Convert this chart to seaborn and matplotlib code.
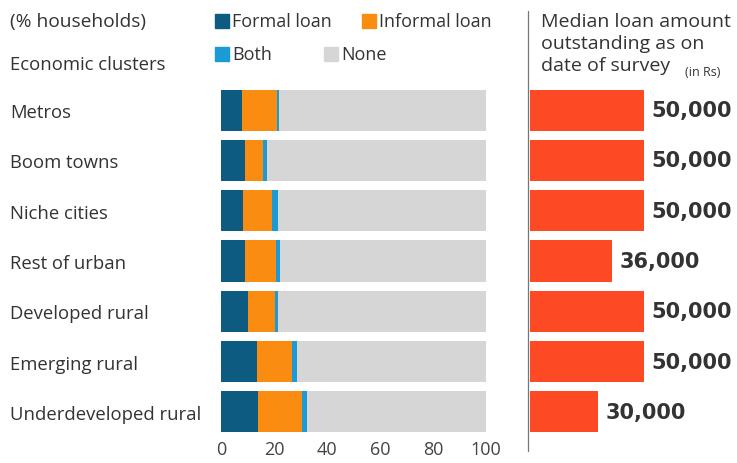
import matplotlib
matplotlib.use("Agg")
import matplotlib.pyplot as plt
import seaborn as sns
import numpy as np
import pandas as pd
from matplotlib.patches import Rectangle
from matplotlib.lines import Line2D

categories = ["Metros", "Boom towns", "Niche cities", "Rest of urban",
              "Developed rural", "Emerging rural", "Underdeveloped rural"]
formal = [7.8, 9.0, 8.4, 9.0, 10.0, 13.5, 14.0]
informal = [13.4, 7.0, 10.8, 11.7, 10.5, 13.2, 16.7]
both = [0.6, 1.2, 2.4, 1.5, 1.0, 1.9, 1.8]
none = [100 - f - i - b for f, i, b in zip(formal, informal, both)]
median_loan = [50000, 50000, 50000, 36000, 50000, 50000, 30000]
median_labels = ["50,000", "50,000", "50,000", "36,000", "50,000", "50,000", "30,000"]
x_ticks = [0, 20, 40, 60, 80, 100]
x_minor = [10, 30, 50, 70, 90]

C_FORMAL = "#0d5b80"
C_INFORMAL = "#fb8c12"
C_BOTH = "#1c9ad6"
C_NONE = "#d6d6d6"
C_RED = "#fd4a24"
TXT = "#333333"

sns.set_style("white")
plt.rcParams["font.family"] = ["Open Sans", "DejaVu Sans"]

W, H = 737, 464
fig = plt.figure(figsize=(W / 100, H / 100), dpi=100)

def fx(px):
    return px / W

def fy(py):
    return 1 - py / H

df = pd.DataFrame({
    "cat": categories,
    "c1": formal,
    "c2": np.array(formal) + np.array(informal),
    "c3": np.array(formal) + np.array(informal) + np.array(both),
    "c4": np.array(formal) + np.array(informal) + np.array(both) + np.array(none),
    "median": median_loan,
})

top, bottom = 86, 438
ax = fig.add_axes([fx(221), fy(bottom), fx(486) - fx(221), fy(top) - fy(bottom)])
for col, c in [("c4", C_NONE), ("c3", C_BOTH), ("c2", C_INFORMAL), ("c1", C_FORMAL)]:
    sns.barplot(data=df, y="cat", x=col, color=c, width=0.82, ax=ax,
                saturation=1, linewidth=0, orient="h")
ax.set_xlim(0, 100)
ax.set_ylim(6.5, -0.5)
ax.set_xlabel("")
ax.set_ylabel("")
ax.set_xticks(x_ticks)
ax.set_xticklabels([str(t) for t in x_ticks])
ax.set_xticks(x_minor, minor=True)
ax.tick_params(axis="x", which="major", length=0, pad=2, labelsize=13, labelcolor="#444444")
ax.tick_params(axis="x", which="minor", length=4, width=0.8, color="#cccccc", direction="out")
ax.tick_params(axis="y", length=0, pad=(221 - 10) * 0.72, labelsize=13.3, labelcolor=TXT)
for lab in ax.get_yticklabels():
    lab.set_ha("left")
for s in ax.spines.values():
    s.set_visible(False)

ax2 = fig.add_axes([fx(530), fy(bottom), fx(644) - fx(530), fy(top) - fy(bottom)])
sns.barplot(data=df, y="cat", x="median", color=C_RED, width=0.82, ax=ax2,
            saturation=1, linewidth=0, orient="h")
ax2.set_xlim(0, 50000)
ax2.set_ylim(6.5, -0.5)
ax2.set_axis_off()
for i, (v, lab) in enumerate(zip(median_loan, median_labels)):
    ax2.text(v + 3200, i, lab, ha="left", va="center", fontsize=15,
             fontweight="bold", color=TXT, clip_on=False, family="DejaVu Sans")

# separator line
fig.add_artist(Line2D([fx(528), fx(528)], [fy(12), fy(452)], color="#777777", lw=0.9))

# header texts
fig.text(fx(10), fy(22), "(% households)", fontsize=13.8, color=TXT, va="center")
fig.text(fx(10), fy(65), "Economic clusters", fontsize=13.3, color=TXT, va="center")
fig.text(fx(541), fy(22), "Median loan amount", fontsize=14, color=TXT, va="center")
fig.text(fx(541), fy(44), "outstanding as on", fontsize=14, color=TXT, va="center")
fig.text(fx(541), fy(66), "date of survey", fontsize=14, color=TXT, va="center")
fig.text(fx(685), fy(73), "(in Rs)", fontsize=9, color=TXT, va="center")

# legend
legend_items = [("Formal loan", C_FORMAL, 215, 22), ("Informal loan", C_INFORMAL, 362, 22),
                ("Both", C_BOTH, 215, 55), ("None", C_NONE, 324, 55)]
for name, c, px, py in legend_items:
    fig.add_artist(Rectangle((fx(px), fy(py + 7)), fx(14), 14 / H, color=c,
                             transform=fig.transFigure))
    fig.text(fx(px + 17), fy(py), name, fontsize=13, color=TXT, va="center")

fig.savefig("out.png", dpi=100, facecolor="white")
